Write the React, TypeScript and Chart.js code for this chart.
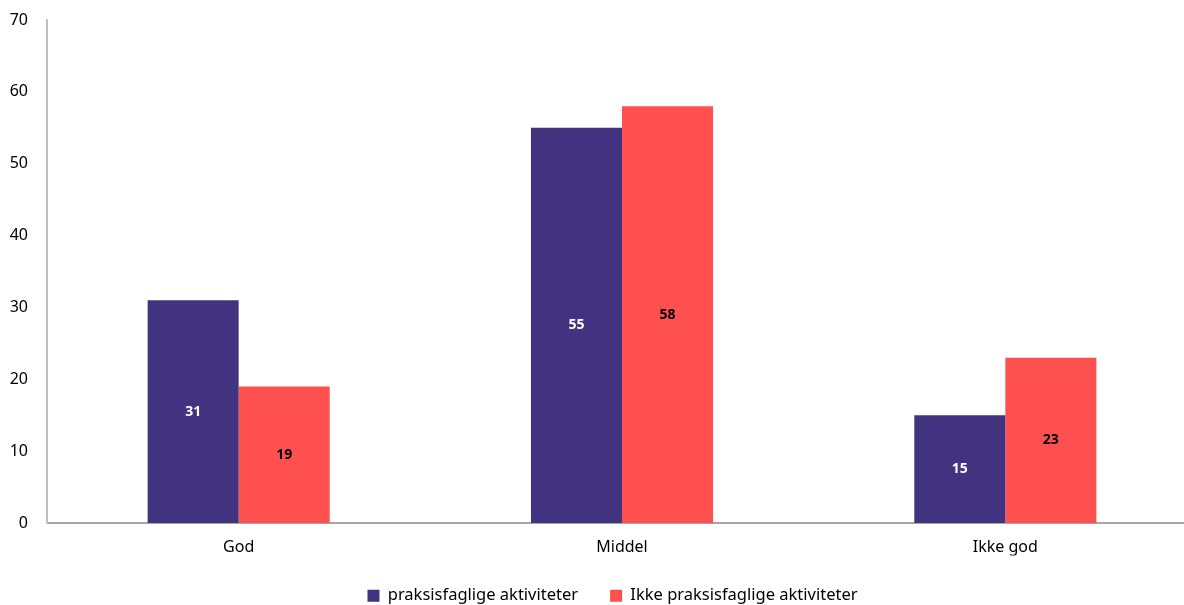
import React, { useEffect, useRef } from "react";
import { Chart, registerables } from "chart.js";

Chart.register(...registerables);

const categories = ["God", "Middel", "Ikke god"];
const seriesNames = ["praksisfaglige aktiviteter", "Ikke praksisfaglige aktiviteter"];
const praksis = [31, 55, 15];
const ikkePraksis = [19, 58, 23];
const yTicks = [0, 10, 20, 30, 40, 50, 60, 70];

const COLORS = ["#41337f", "#ff5050"];
const LABEL_COLORS = ["#ffffff", "#000000"];
const FONT = "'Noto Sans', sans-serif";

const valueLabels = {
  id: "valueLabels",
  afterDatasetsDraw(chart: any) {
    const ctx = chart.ctx;
    ctx.save();
    ctx.font = `bold 14px ${FONT}`;
    ctx.textAlign = "center";
    ctx.textBaseline = "middle";
    chart.data.datasets.forEach((ds: any, i: number) => {
      const meta = chart.getDatasetMeta(i);
      meta.data.forEach((bar: any, j: number) => {
        const v = ds.data[j];
        const cy = (bar.y + bar.base) / 2;
        ctx.fillStyle = LABEL_COLORS[i];
        ctx.fillText(String(v), bar.x, cy);
      });
    });
    ctx.restore();
  },
};

export default function App() {
  const ref = useRef<HTMLCanvasElement>(null);
  useEffect(() => {
    document.body.style.margin = "0";
    const chart = new Chart(ref.current!, {
      type: "bar",
      data: {
        labels: categories,
        datasets: [
          {
            label: seriesNames[0],
            data: praksis,
            backgroundColor: COLORS[0],
            categoryPercentage: 0.475,
            barPercentage: 1,
          },
          {
            label: seriesNames[1],
            data: ikkePraksis,
            backgroundColor: COLORS[1],
            categoryPercentage: 0.475,
            barPercentage: 1,
          },
        ],
      },
      options: {
        animation: false,
        responsive: false,
        maintainAspectRatio: false,
        layout: { padding: { top: 20, right: 0, left: 0, bottom: 0 } },
        plugins: {
          legend: {
            position: "bottom",
            labels: {
              boxWidth: 12,
              boxHeight: 12,
              padding: 32,
              color: "#000",
              font: { family: FONT, size: 16.5 },
            },
          },
          tooltip: { enabled: false },
        },
        scales: {
          x: {
            grid: { display: false, drawTicks: false },
            border: { display: true, color: "#a6a6a6", width: 2 },
            ticks: { color: "#000", padding: 15, font: { family: FONT, size: 16 } },
            afterFit: (s: any) => {
              s.height = 32.5;
              s.paddingRight = 28;
            },
          },
          y: {
            min: 0,
            max: 70,
            afterBuildTicks: (s: any) => {
              s.ticks = yTicks.map((v) => ({ value: v }));
            },
            afterFit: (s: any) => {
              s.width = 47;
              s.paddingTop = 0;
              s.paddingBottom = 0;
            },
            grid: { display: false, drawTicks: false },
            border: { display: true, color: "#c0c0c0", width: 2 },
            ticks: { color: "#000", padding: 19, font: { family: FONT, size: 16 } },
          },
        },
      },
      plugins: [valueLabels],
    });
    return () => chart.destroy();
  }, []);
  return (
    <div style={{ position: "absolute", left: 0, top: 0, width: 1184, height: 605, overflow: "hidden" }}>
      <canvas ref={ref} width={1225} height={614} style={{ display: "block" }} />
    </div>
  );
}
